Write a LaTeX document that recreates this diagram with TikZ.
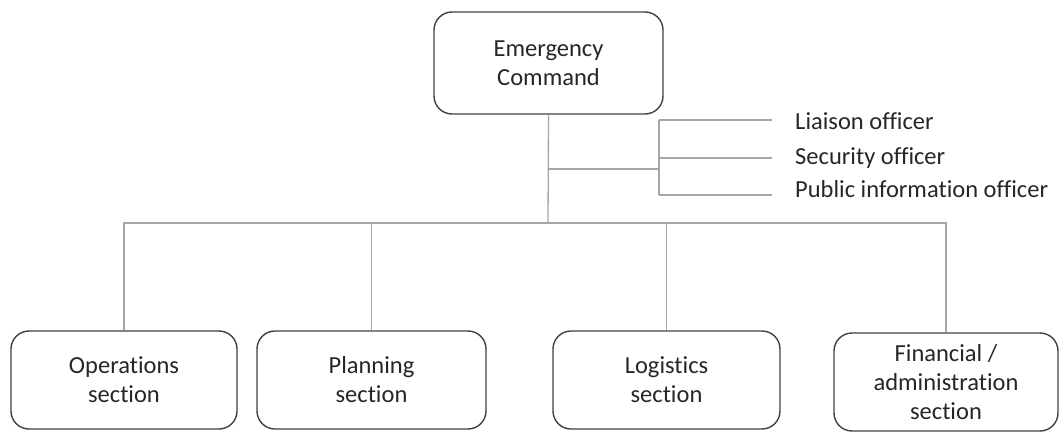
\documentclass[tikz,border=0pt]{standalone}
\usepackage{fontspec}
\setmainfont{Carlito}[Ligatures=NoCommon]
\definecolor{boxline}{HTML}{404040}
\definecolor{connline}{HTML}{A6A6A6}
\definecolor{txt}{HTML}{262626}
\begin{document}
\begin{tikzpicture}[x=1pt,y=-1pt,
  orgbox/.style={draw=boxline, line width=1.4pt, rounded corners=18pt, align=center,
    text=txt, font=\fontsize{24.5}{29}\selectfont, inner sep=0pt},
  conn/.style={draw=connline, line width=1.3pt},
  lbl/.style={anchor=west, inner sep=0pt, text=txt, font=\fontsize{24.5}{29}\selectfont}]
\useasboundingbox (0,0) rectangle (1059,433);
\begin{scope}
\clip (0,0) rectangle (1059,433);
\node[orgbox, minimum width=229pt, minimum height=102pt] (top) at (548.5,63) {Emergency\\Command};
\node[orgbox, minimum width=226pt, minimum height=98pt] (ops) at (124,380) {Operations\\section};
\node[orgbox, minimum width=229pt, minimum height=98pt] (plan) at (371.5,380) {Planning\\section};
\node[orgbox, minimum width=227pt, minimum height=98pt] (log) at (666.5,380) {Logistics\\section};
\node[orgbox, minimum width=224pt, minimum height=98pt] (fin) at (946,382) {Financial /\\administration\\section};
\end{scope}
\node[lbl] (liaison) at (795,121) {Liaison officer};
\node[lbl] (security) at (795,158) {Security officer};
\node[lbl] (public) at (795,189) {Public information officer};
\coordinate (bar) at (548,223);
\coordinate (j) at (548,169);
\coordinate (k) at (659,169);
\coordinate (e1) at (772,120);
\coordinate (e2) at (772,158);
\coordinate (e3) at (772,195);
\draw[conn] (top.south) -- (bar);
\draw[conn] (ops.north) -- (ops.north |- bar) -- (fin.north |- bar) -- (fin.north);
\draw[conn] (plan.north) -- (plan.north |- bar);
\draw[conn] (log.north) -- (log.north |- bar);
\draw[conn] (j) -- (k);
\draw[conn] (k |- e1) -- (k |- e3);
\draw[conn] (k |- e1) -- (e1);
\draw[conn] (k |- e2) -- (e2);
\draw[conn] (k |- e3) -- (e3);
\end{tikzpicture}
\end{document}
